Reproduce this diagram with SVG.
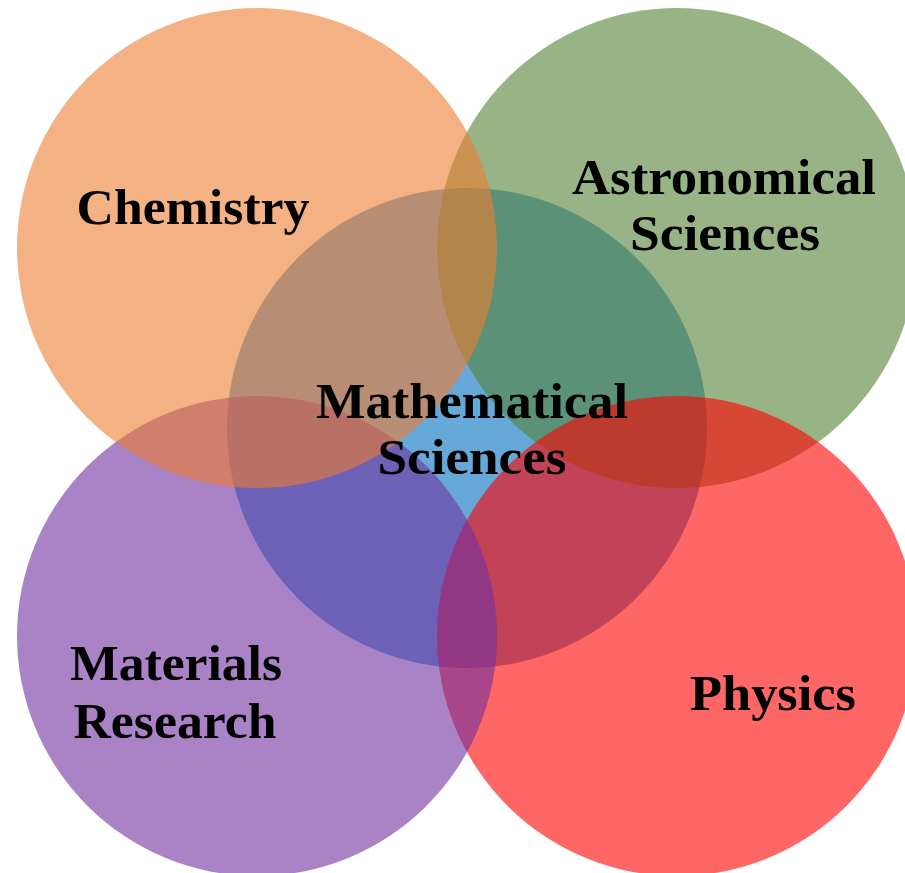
<svg xmlns="http://www.w3.org/2000/svg" width="905" height="873" viewBox="0 0 905 873">
<style>
.c{opacity:0.6}
.t{font-family:"Liberation Serif","Times New Roman",serif;font-weight:bold;font-size:50px;fill:#000;text-anchor:middle}
</style>
<rect width="905" height="873" fill="#fff"/>
<g id="math"><circle class="c" cx="467" cy="428" r="240" fill="#0070c0"/></g>
<g id="astro"><circle class="c" cx="677" cy="248" r="240" fill="#548235"/></g>
<g id="physics"><circle class="c" cx="677" cy="636" r="240" fill="#ff0000"/></g>
<g id="materials"><circle class="c" cx="257" cy="636" r="240" fill="#7030a0"/></g>
<g id="chemistry"><circle class="c" cx="257" cy="248" r="240" fill="#ed7d31"/></g>
<g id="labels">
<text class="t" x="193" y="224" textLength="233" lengthAdjust="spacingAndGlyphs">Chemistry</text>
<text class="t" x="724" y="194" textLength="304" lengthAdjust="spacingAndGlyphs">Astronomical</text>
<text class="t" x="725" y="250" textLength="190" lengthAdjust="spacingAndGlyphs">Sciences</text>
<text class="t" x="472" y="418" textLength="312" lengthAdjust="spacingAndGlyphs">Mathematical</text>
<text class="t" x="472" y="474" textLength="189" lengthAdjust="spacingAndGlyphs">Sciences</text>
<text class="t" x="176" y="680" textLength="212" lengthAdjust="spacingAndGlyphs">Materials</text>
<text class="t" x="175" y="738" textLength="203" lengthAdjust="spacingAndGlyphs">Research</text>
<text class="t" x="773" y="710" textLength="166" lengthAdjust="spacingAndGlyphs">Physics</text>
</g>
</svg>
